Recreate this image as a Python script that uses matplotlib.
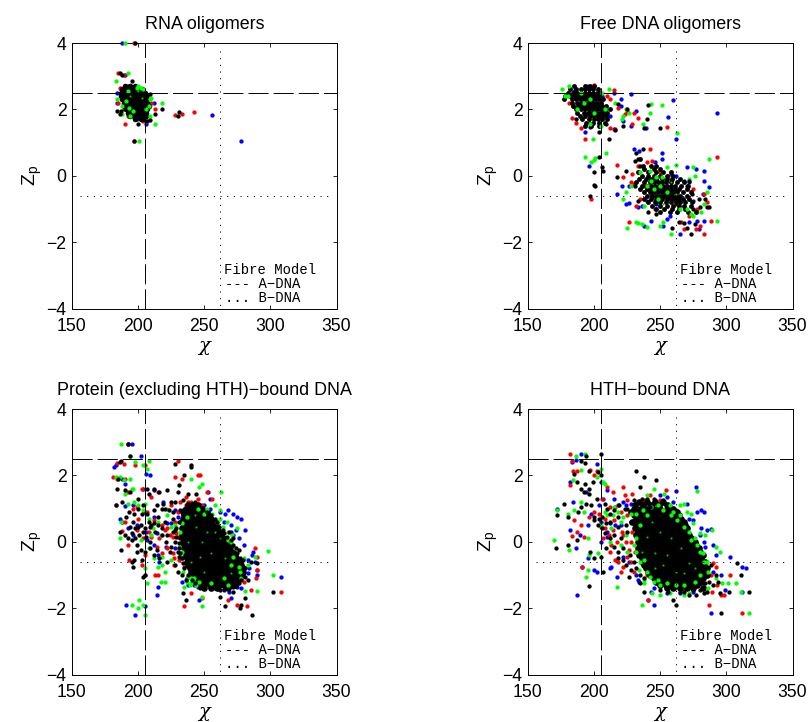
import matplotlib
matplotlib.use('Agg')
import matplotlib.pyplot as plt

plt.rcParams['font.family'] = ['Liberation Sans', 'DejaVu Sans']
plt.rcParams['mathtext.fontset'] = 'custom'
plt.rcParams['mathtext.rm'] = 'Liberation Sans'
plt.rcParams['lines.scale_dashes'] = False

# fibre model reference values
a_dna_chi = 205.5
a_dna_zp = 2.5
b_dna_chi = 262
b_dna_zp = -0.6

# --- RNA oligomers, points (chi, Zp)
rna_blue = [(188,4.0),(190,3.05),(184,2.2),(184,2.5),(187,2.6),(198,2.65),(199,1.7),(206,1.55),(212,2.2),(207,2.4),
            (256,1.83),(278,1.05),(192,2.7),(205,1.8)]
rna_red = [(197,4.0),(185,3.1),(189,3.05),(186,2.65),(185,2.2),(190,1.55),(189,2.0),(192,1.8),(197,1.05),(213,2.0),
           (228,1.82),(233,1.87),(242,1.92),(204,1.65),(190,2.6),(210,2.2),(205,1.7),(192,2.4)]
rna_green = [(190,4.0),(192,3.1),(183,2.85),(184,2.3),(188,1.85),(201,1.05),(213,1.55),(218,2.2),(209,1.8),(207,1.65),
             (210,2.35),(200,2.7),(204,2.6),(196,1.95),(194,1.8),(208,2.1),(206,2.0),(188,2.1),(192,2.55),(199,2.65),
             (202,2.65),(209,2.3),(191,2.25),(193,2.05)]
rna_black = [(198,4.0),(186,3.1),(188,3.05),(195,2.85),(197,1.05),(184,1.95),(186,1.85),(187,1.95),(200,1.55),(207,1.65),
             (209,1.68),(213,1.85),(218,2.0),(231,1.92),(230,1.8),(209,2.45)]
rna_core = {2.7: [190,194,198], 2.6: [188,191,194,197,200,203], 2.5: [187,190,193,196,199,202,205],
            2.4: [187,190,192,195,198,200,203,206], 2.3: [188,191,193,196,198,201,204,207],
            2.2: [189,191,194,196,199,202,204,207], 2.1: [189,192,195,197,200,203,205,208],
            2.0: [191,193,196,199,201,204,207], 1.9: [192,195,198,200,203,206],
            1.8: [194,197,200,203,206], 1.7: [198,202,204]}
rna_specks = [(194,2.4),(200,2.55),(203,2.35)]

# --- free DNA oligomers
free_blue = [(260,2.27),(293,1.88),(256,1.78),(262,1.1),(228,2.45),(220,2.3),(215,2.5),(232,1.95),(222,1.65),(228,1.5),
             (239,1.45),(193,1.32),(197,1.48),(215,1.4),(212,1.8),(220,2.1),(205,1.9),(185,2.55),(190,2.1),(195,2.7),
             (206,2.4),(230,0.8),(234,0.75),(251,0.68),(251,0.5),(246,0.4),(196,0.3),(221,-0.3),(217,-0.55),(224,-0.85),
             (226,-0.83),(233,-0.95),(236,-0.9),(243,-1.35),(238,-1.5),(252,-1.5),(255,-1.3),(257,-1.2),(265,-1.75),
             (272,-1.4),(278,-1.35),(283,-1.35),(279,-1.6),(270,0.27),(277,0.2),(283,0.15),(287,-0.35),(283,-0.15),
             (282,-0.55),(268,-0.15),(272,-0.2),(262,0.0),(258,0.05),(226,-0.3),(240,-0.75),(247,-0.85),(275,-0.75)]
free_red = [(200,2.72),(215,2.58),(210,2.4),(212,2.3),(218,2.05),(225,1.95),(230,1.9),(233,1.75),(229,1.55),(216,1.4),
            (212,1.45),(193,1.1),(190,1.45),(186,1.6),(183,1.75),(181,2.2),(184,2.1),(196,1.6),(223,1.85),(206,1.75),
            (255,1.48),(242,0.8),(233,0.3),(240,0.4),(244,0.45),(217,0.32),(229,0.05),(198,-0.7),(226,-1.4),(235,-0.7),
            (230,-0.25),(222,-0.05),(228,-0.2),(232,-0.9),(246,-1.0),(243,-0.55),(260,-0.7),(268,-1.6),(277,-1.6),
            (283,-1.75),(280,-1.5),(288,-1.35),(293,0.57),(283,-0.55),(285,-0.8),(275,-0.4),(262,-0.85),(250,0.1),
            (256,0.0),(238,-0.3),(272,-1.2),(278,-1.0),(266,-1.4)]
free_green = [(176,2.6),(178,2.4),(181,2.7),(180,2.4),(206,2.5),(211,2.6),(216,2.2),(224,2.0),(226,1.9),(221,1.7),
              (222,1.8),(237,1.55),(242,1.9),(243,2.15),(251,2.13),(263,1.3),(199,1.1),(197,1.55),(205,1.5),(187,2.0),
              (190,2.5),(192,2.2),(200,1.9),(208,2.0),(197,2.3),(193,0.57),(198,0.4),(201,0.52),(200,0.48),(209,0.7),
              (262,0.33),(251,-0.05),(255,0.25),(242,0.15),(235,0.1),(287,0.5),(275,0.25),(272,-0.1),(276,0.0),(225,-1.57),
              (232,-1.38),(236,-1.45),(240,-1.55),(233,-1.42),(250,-1.5),(252,-1.4),(258,-1.75),(275,-1.2),(273,-1.15),
              (281,-1.1),(283,-0.85),(285,-0.5),(293,-1.37),(222,-0.7),(224,-0.5),(228,-0.3),(238,-0.9),(245,-0.4),
              (248,-0.7),(255,-0.5),(243,-0.15),(265,-1.0),(270,-1.0),(240,-0.3),(250,-0.3),(247,-0.05)]
free_black = [(241,2.13),(238,1.45),(240,1.7),(250,1.45),(204,1.32),(211,1.1),(216,1.38),(209,1.55),(186,1.7),(222,1.5),
              (225,2.0),(218,2.15),(204,0.57),(206,0.27),(207,0.13),(200,0.12),(201,-0.3),(200,-0.28),(197,-0.6),(232,0.7),
              (233,0.5),(237,0.8),(231,0.45),(224,0.15),(217,-0.05),(235,0.3),(231,-0.3),(233,-0.75),(241,-1.1),(247,-1.15),
              (259,-1.58),(264,-1.4),(268,-1.42),(273,-1.75),(270,-1.58),(276,-1.45),(285,-0.95),(287,-0.93),(275,-1.0),
              (280,-0.95),(279,-0.7),(284,-0.7),(274,-0.55),(270,-0.3),(272,-0.15)]
free_core = {2.7: [185,193,197,200], 2.6: [182,186,190,193,196,199,203], 2.5: [180,184,187,190,193,196,199,202,204],
             2.4: [178,182,185,188,191,194,197,200,203], 2.3: [177,183,186,189,192,195,198,201,204,207],
             2.2: [183,187,190,193,196,199,202,205], 2.1: [184,188,191,194,197,200,203,206,209],
             2.0: [186,190,193,196,199,202,205,208,212], 1.9: [187,192,195,198,201,204,207,210],
             1.8: [189,193,197,200,203,206,209], 1.7: [191,196,200,203,206,210], 1.6: [194,199,204,208],
             1.5: [193,198,204],
             0.5: [235], 0.3: [237,243,247], 0.2: [238,245,250], 0.1: [233,241,247,252,258],
             0.0: [236,241,245,250,255,260], -0.1: [234,239,243,247,251,255,259,265],
             -0.2: [232,238,242,245,248,251,254,258,263,268], -0.3: [236,240,243,246,249,252,255,258,261,266,271],
             -0.4: [235,240,243,246,249,252,255,258,261,264,270], -0.5: [238,242,245,248,251,254,257,260,263,267,273],
             -0.6: [240,244,247,250,253,256,259,262,265,270], -0.7: [238,243,247,251,255,258,261,264,267,272],
             -0.8: [241,246,250,254,258,262,265,269,274], -0.9: [244,250,255,260,264,268,273],
             -1.0: [247,253,259,264,269], -1.1: [250,257,263,271,277]}
free_specks = [(258,-0.2),(252,-0.85),(262,-0.55)]

# --- protein (excluding HTH) bound DNA
prot_blue = [(192,2.95),(195,2.95),(202,2.58),(182,2.25),(183,2.3),(206,2.05),(209,2.0),(188,1.9),(190,1.75),(212,1.55),
             (219,1.2),(204,1.6),(190,1.08),(196,1.1),(188,0.6),(192,0.4),(186,0.7),(196,0.2),(206,0.3),(212,-0.1),
             (215,-0.4),(221,-0.15),(216,-0.6),(215,-1.35),(214,-1.6),(191,-1.92),(205,-1.95),(198,-2.2),(246,-1.75),
             (233,-1.2),(238,-1.3),(253,1.5),(254,1.3),(250,1.1),(272,0.85),(275,0.75),(278,0.7),(270,0.5),(274,0.35),
             (281,0.35),(272,0.2),(268,0.95),(280,-0.1),(287,-0.3),(290,-0.85),(290,-1.0),(288,-0.6),(284,-0.8),(308,-1.05),
             (265,-1.45),(269,-1.5),(270,-1.7),(263,-1.3),(245,-1.35),(250,-1.4),(278,-1.4),(254,1.0),(265,0.6),(262,0.9),
             (230,0.75),(235,1.0),(242,0.9),(225,0.55),(212,0.75),(205,0.9),(277,-1.1),(283,-0.55),(283,-0.95),
             (199,0.5),(207,0.05),(214,0.25),(222,0.55),(228,-0.2),(233,-0.5),(228,0.95),(237,-1.1),(242,-1.3),(258,-1.4),
             (286,-0.4),(275,-1.35),(266,0.85),(270,0.3),(276,0.1)]
prot_red = [(184,2.38),(189,2.35),(192,2.95),(198,2.3),(205,2.3),(181,1.95),(184,1.9),(183,1.1),(190,1.9),(192,1.5),
            (203,1.6),(210,1.35),(196,1.0),(190,0.6),(188,0.32),(192,-0.1),(193,-0.55),(203,-0.7),(205,-0.4),(205,-1.0),
            (213,-1.0),(215,-1.0),(230,2.42),(228,1.95),(233,1.9),(245,2.0),(247,2.02),(236,1.35),(245,1.3),(252,1.5),
            (256,1.3),(232,1.2),(240,1.2),(225,1.1),(218,0.5),(222,0.4),(224,0.2),(226,-0.35),(227,-0.5),(218,-0.35),
            (235,-1.95),(268,-1.75),(275,-1.9),(282,-1.95),(290,-0.45),(288,-0.2),(290,-0.85),(289,-1.1),(308,-1.5),
            (285,-1.45),(248,-1.7),(240,-1.55),(235,-0.75),(212,0.65),(208,0.3),(200,0.7),(215,1.5),(255,-1.35),(275,-1.1),
            (270,-1.2),(278,-0.75),(236,1.1),(242,1.1),(230,0.9),(234,0.8),(228,0.6),
            (199,0.35),(204,0.1),(210,0.15),(216,0.1),(220,0.35),(226,0.15),(230,0.15),(227,-0.7),(231,-0.55),(235,0.6),
            (238,1.2),(243,1.15),(248,1.1),(233,0.55),(229,0.25),(222,-0.2),(214,-0.15),(207,0.9),(199,1.05),(272,-1.3),
            (280,-1.2),(260,-1.4),(250,-1.35)]
prot_green = [(187,2.95),(194,2.58),(208,2.42),(204,2.3),(198,2.4),(207,2.2),(183,1.95),(186,1.95),(189,1.85),(194,1.9),
              (196,1.6),(190,1.45),(187,0.6),(186,0.1),(200,1.1),(205,1.15),(204,0.95),(197,1.2),(240,1.9),(246,1.65),
              (248,1.75),(263,1.5),(258,1.1),(252,1.0),(262,0.95),(275,0.4),(267,0.6),(271,0.2),(270,0.0),(273,-0.2),
              (298,-0.28),(288,-0.45),(283,-0.7),(280,-0.5),(302,-1.0),(290,-1.48),(281,-1.48),(277,-0.9),(240,-1.1),
              (242,-1.2),(238,-1.05),(244,-1.3),(240,-1.25),(235,-1.35),(248,-1.95),(248,-1.65),(201,-1.75),(204,-1.9),
              (195,-1.9),(200,-2.0),(205,-2.2),(217,-1.2),(220,-1.2),(215,-0.75),(220,-0.9),(218,-0.7),(212,-0.5),
              (207,-1.25),(205,-0.8),(211,0.4),(222,0.8),(215,0.6),(228,0.5),(232,-0.4),(265,-1.1),
              (262,0.7),(270,-0.7),(268,0.3),(245,1.0),(222,1.0),(208,0.7),
              (192,1.15),(195,1.6),(232,0.3),
              (202,0.05),(210,0.2),(217,0.2),(225,0.45),(231,-0.15),(233,0.55),(237,0.75),(250,0.85),(256,0.85),
              (260,0.6),(264,0.45),(268,0.05),(272,-0.45),(276,-0.75),(278,-1.1),(268,-1.3),(255,-1.25),(246,-1.2),(237,-1.2),
              (239,-1.3),(242,-1.1),(234,-0.9),(233,-0.3),(225,-0.55),(218,-0.45),(208,-0.2)]
prot_black = [(192,2.95),(194,2.58),(186,2.4),(187,2.42),(228,2.35),(240,2.25),(240,2.3),(185,1.9),(184,1.6),(183,1.1),
              (190,1.55),(188,1.2),(194,1.5),(207,1.6),(212,1.6),(216,1.5),(222,1.55),(230,1.5),(235,2.0),(231,1.7),
              (238,1.45),(244,1.45),(243,1.2),(187,-0.25),(190,0.2),(192,0.1),(195,0.05),(199,-0.3),(202,-0.25),(195,-0.6),
              (197,-0.55),(196,-0.75),(203,-0.55),(205,-1.0),(204,-1.05),(186,0.3),(194,0.45),(198,0.4),(202,0.5),(191,0.75),
              (197,0.85),(205,0.4),(208,0.6),(204,1.1),(208,1.45),(214,1.1),(220,1.0),(213,0.3),(218,0.4),(209,0.0),
              (209,-0.2),(214,-0.25),(224,-0.3),(225,1.2),(234,-1.55),(236,-1.75),(266,-1.95),(262,-1.65),(278,-1.9),
              (277,-2.0),(286,-2.2),(281,-1.7),(302,-1.5),(272,-1.5),(262,-1.45),(283,-1.15),(285,-0.6),(290,-0.65),
              (196,0.6),(200,1.0),(215,0.75),(222,0.2),(228,0.0),(210,0.5),(203,0.85),(226,0.9),(220,0.6),
              (200,0.45),(204,0.3),(206,0.15),(209,0.45),(212,0.55),(215,0.5),(218,0.2),(221,0.0),(225,-0.15),(228,0.35),
              (231,0.6),(226,0.7),(223,0.95),(219,1.15),(212,0.95),(207,0.85),(201,0.2),(198,0.1),(205,-0.3),(212,-0.4),
              (216,-0.5),(222,-0.6),(228,-0.7),(230,-0.9),(233,-1.0),(236,-1.15),(238,1.0),(240,1.1),(234,1.25),(228,1.2),
              (232,0.95),(226,0.3),(218,1.0),(200,1.3),(193,0.9),(199,-0.1),(195,0.25),
              (252,0.9),(255,0.8),(258,0.7),(260,0.6),(261,0.45),(264,0.35),(265,0.25),(267,0.15),(270,0.05),(272,-0.1),
              (274,-0.2),(275,-0.35),(277,-0.5),(232,0.1),(231,-0.05),(231,-0.2),(232,-0.35),(233,-0.5),(234,-0.65),(235,-0.8),
              (238,-1.0),(241,-1.15),(243,-1.25),(247,-1.38),(278,-1.15),(279,-1.0),(276,-1.25),(272,-1.35),(265,-1.42),
              (229,0.4),(229,0.15),(230,-0.3),(231,-0.45),(269,0.3),(272,0.1),(276,-0.25),(279,-0.55),(281,-0.8),(281,-1.05)]
prot_core = {1.1: [238,241,245], 1.0: [236,239,242,245,248], 0.9: [234,237,240,243,246,249,252],
             0.8: [235,238,241,244,247,250,253], 0.7: [234,237,240,243,246,249,252,255],
             0.6: [233,236,239,242,245,248,251,254,257], 0.5: [235,238,241,244,247,250,253,256,259],
             0.4: [233,236,239,242,245,248,251,254,257,260], 0.3: [235,238,241,244,247,250,253,256,259,262],
             0.2: [233,236,239,242,245,248,251,254,257,260,263], 0.1: [234,237,240,243,246,249,252,255,258,261,264],
             0.0: [234,237,240,243,246,249,252,255,258,261,264,267], -0.1: [235,238,241,244,247,250,253,256,259,262,265,268],
             -0.2: [235,238,241,244,247,250,253,256,259,262,265,268,271], -0.3: [236,239,242,245,248,251,254,257,260,263,266,269,272],
             -0.4: [236,239,242,245,248,251,254,257,260,263,266,269,273], -0.5: [237,240,243,246,249,252,255,258,261,264,267,270,274],
             -0.6: [237,240,243,246,249,252,255,258,261,264,267,270,273,277], -0.7: [238,241,244,247,250,253,256,259,262,265,268,271,274,278],
             -0.8: [239,242,245,248,251,254,257,260,263,266,269,272,275,279], -0.9: [240,243,246,249,252,255,258,261,264,267,270,273,276,279],
             -1.0: [241,244,247,250,253,256,259,262,265,268,271,274,278], -1.1: [244,247,250,253,256,259,262,265,268,271,274,277],
             -1.2: [245,248,251,254,257,260,263,266,269,272,275], -1.3: [247,250,254,258,262,266,270,273], -1.4: [250,255,260,268]}
prot_specks = [(248,0.0),(255,-0.35),(240,-0.6),(262,0.1),(250,-0.9),(244,0.45),(252,0.3),(258,0.3),(266,-0.5),(238,0.0),
               (247,-0.45),(270,-0.95),(243,0.8)]

# --- HTH bound DNA
hth_blue = [(190,2.65),(186,2.45),(183,2.4),(202,2.35),(182,1.8),(184,1.2),(172,1.0),(182,0.35),(189,0.2),(186,-0.2),
            (191,-0.75),(200,-0.85),(202,-0.9),(187,-1.6),(195,-0.5),(195,0.5),(198,0.85),(205,0.6),(204,1.1),(210,1.55),
            (215,1.3),(222,1.2),(228,1.15),(233,1.2),(255,1.35),(262,1.52),(277,1.65),(281,0.95),(283,0.9),(278,0.9),
            (275,0.65),(270,1.15),(281,0.4),(285,0.35),(283,0.0),(288,0.38),(290,-0.1),(284,-0.15),(303,-0.45),(312,-0.75),
            (315,-0.8),(296,-1.0),(299,-1.45),(312,-1.5),(288,-2.15),(245,-1.9),(241,-1.75),(243,-1.5),(234,-1.2),(232,-1.0),
            (217,-1.05),(212,-0.8),(213,-0.75),(222,-0.45),(255,-1.55),(265,-1.55),(275,-1.5),(283,-1.0),(292,-0.4),(260,1.2),
            (250,1.4),(205,0.0),(210,0.3),(220,0.5),(205,1.8),(207,1.3),(194,1.5),
            (210,0.15),(216,0.5),(224,1.1),(238,1.2),(246,1.25),(258,1.05),(272,0.7),(280,0.2),(226,-0.6),(233,-1.15),
            (245,-1.4),(272,-1.35),(290,-0.9),(218,1.1),(212,0.55)]
hth_red = [(182,2.65),(183,2.42),(184,2.12),(187,2.13),(197,2.15),(202,2.13),(200,2.0),(182,1.7),(185,0.67),(187,0.28),
           (183,0.17),(190,0.5),(192,0.15),(191,-0.75),(210,1.65),(214,1.5),(212,1.05),(206,1.3),(222,1.65),(223,1.4),
           (229,1.45),(254,1.57),(242,1.4),(245,1.2),(196,0.75),(200,0.9),(205,0.45),(207,0.1),(213,-0.1),(212,-0.3),
           (218,-0.6),(220,-0.9),(225,-0.45),(222,0.2),(228,0.0),(230,-0.9),(241,-1.75),(262,-1.35),(268,-1.45),(287,-1.9),
           (296,-1.6),(298,-1.6),(293,-1.3),(303,-1.0),(312,-2.15),(289,-1.5),(285,-1.0),(290,-0.65),(220,0.9),(215,0.65),
           (235,1.0),(240,-1.0),(208,0.7),(225,0.8),
           (204,0.85),(208,0.4),(211,0.2),(214,0.35),(217,0.0),(221,0.3),(224,0.0),(226,-0.25),(229,0.3),(231,-0.3),
           (228,-0.6),(222,-0.75),(216,-0.55),(216,1.05),(225,1.25),(231,1.15),(238,1.25),(250,1.25),(256,1.15),(262,0.95),
           (288,-1.0),(292,-0.75),(283,-1.35),(276,-1.3),(250,-1.35)]
hth_green = [(186,2.58),(193,2.65),(190,2.15),(184,1.85),(170,0.05),(181,-0.25),(172,0.95),(180,0.85),(185,0.95),(192,0.9),
             (190,1.2),(205,2.2),(202,1.95),(208,1.75),(207,1.8),(195,0.1),(196,-0.4),(195,-0.85),(194,-1.05),(203,-0.35),
             (217,-1.35),(236,-1.9),(244,-1.55),(250,-1.6),(257,-1.55),(268,-1.6),(272,-1.55),(286,-1.4),(292,-1.1),(297,-1.25),
             (301,-1.25),(307,-1.25),(311,-1.5),(317,-2.15),(295,-0.3),(292,-0.15),(289,0.35),(284,0.2),(280,0.25),(275,0.55),
             (270,0.9),(265,1.1),(268,1.15),(273,0.85),(278,1.53),(253,1.45),(257,1.1),(245,1.6),(240,1.4),(215,1.05),
             (218,0.9),(210,0.8),(213,0.4),(222,0.75),(205,0.5),(212,0.0),(220,-0.1),(225,-0.3),(235,-0.6),(240,-0.9),
             (245,-1.2),(238,-1.15),(250,-1.3),(262,-1.3),(260,0.9),(265,0.8),(272,0.3),(276,0.1),(280,-0.3),(283,-0.6),
             (286,-0.9),(235,0.5),(232,0.1),(240,0.8),
             (208,0.9),(214,0.8),(220,0.6),(224,0.2),(228,0.85),(232,0.85),(237,0.95),(243,1.05),(248,1.1),(252,0.95),
             (258,0.8),(263,0.65),(268,0.45),(273,0.05),(278,-0.1),(282,-0.35),(285,-0.6),(232,-0.3),(230,-0.1),(234,-0.85),
             (238,-0.55),(242,-1.05),(248,-1.15),(255,-1.25),(268,-1.3),(276,-1.2),(280,-1.0),(238,-1.25)]
hth_black = [(205,2.65),(194,2.58),(190,2.42),(193,2.38),(196,2.13),(203,2.1),(205,2.0),(185,2.05),(187,1.8),(190,1.6),
             (192,1.5),(193,1.75),(196,1.45),(177,1.15),(172,0.8),(180,0.75),(190,1.05),(188,0.9),(194,1.15),(198,1.1),
             (200,0.65),(204,0.7),(206,0.75),(171,-0.2),(180,-0.1),(187,0.05),(197,-0.3),(200,-0.5),(205,-0.45),(207,-0.9),
             (196,-1.33),(232,2.12),(238,1.95),(247,1.85),(235,1.65),(240,1.3),(242,1.05),(225,1.0),(212,0.6),(215,0.2),
             (218,-0.5),(222,-0.55),(228,-0.85),(226,-1.05),(235,-1.25),(238,-1.5),(250,-1.45),(260,-1.75),(262,-1.9),(265,-1.5),
             (277,-1.6),(283,-1.55),(285,-1.5),(295,-1.55),(302,-1.5),(317,-1.5),(311,-1.0),(308,-0.65),(296,-2.15),(292,-1.0),
             (288,-0.7),(272,-1.6),(210,1.0),(218,0.75),(224,0.5),(208,0.25),
             (200,0.75),(203,0.5),(206,0.4),(209,0.55),(212,0.85),(215,0.95),(218,0.45),(220,0.1),(222,-0.2),(225,0.3),
             (227,-0.4),(215,-0.15),(212,0.1),(209,-0.2),(218,-0.3),(224,-0.7),(230,-0.6),(232,-0.8),(235,-1.0),(238,-1.1),
             (228,0.6),(230,1.25),(236,1.3),(245,1.3),(252,1.25),(223,1.0),(219,1.1),(208,1.15),(202,1.3),(196,1.6),
             (199,1.8),(294,-1.2),(290,-1.3),(287,-1.2),(284,-1.25),(280,-1.45),(275,-1.45),(256,-1.5),(268,-1.5)]
hth_core = {1.2: [234,240,246,252], 1.1: [231,237,243,249,255], 1.0: [230,235,240,245,250,255,260],
            0.9: [228,233,238,243,247,251,255,259,263], 0.8: [230,235,240,244,248,252,256,260,264],
            0.7: [232,237,241,244,247,250,253,256,259,262,266], 0.6: [229,234,238,241,244,247,250,253,256,259,262,265,268],
            0.5: [232,236,239,242,245,248,251,254,257,260,263,266,269], 0.4: [231,234,237,240,243,246,249,252,255,258,261,264,267,270],
            0.3: [233,236,239,242,245,248,251,254,257,260,263,266,269], 0.2: [232,235,238,241,244,247,250,253,256,259,262,265,268,272],
            0.1: [234,237,240,243,246,249,252,255,258,261,264,267,270,273], 0.0: [233,236,239,242,245,248,251,254,257,260,263,266,269,272,276],
            -0.1: [235,238,241,244,247,250,253,256,259,262,265,268,271,274,277], -0.2: [233,236,239,242,245,248,251,254,257,260,263,266,269,272,275,279],
            -0.3: [235,238,241,244,247,250,253,256,259,262,265,268,271,274,277,280], -0.4: [234,237,240,243,246,249,252,255,258,261,264,267,270,273,276,279,282],
            -0.5: [236,239,242,245,248,251,254,257,260,263,266,269,272,275,278,281], -0.6: [236,239,242,245,248,251,254,257,260,263,266,269,272,275,278,281,284],
            -0.7: [238,241,244,247,250,253,256,259,262,265,268,271,274,277,280,283], -0.8: [239,242,245,248,251,254,257,260,263,266,269,272,275,278,281,285],
            -0.9: [241,244,247,250,253,256,259,262,265,268,271,274,277,280,284], -1.0: [242,245,248,251,254,257,260,263,266,269,272,275,278,281,285],
            -1.1: [245,248,251,254,257,260,263,266,269,272,275,278,282], -1.2: [247,250,253,256,259,262,265,268,271,274,277,281],
            -1.3: [250,254,258,262,266,270,274,278], -1.4: [255,260,265,270,275,282]}
hth_specks = [(240,0.15),(246,-0.35),(252,-0.7),(258,0.1),(266,-0.2),(272,-0.65),(244,0.6),(255,-0.4),(262,-0.9),(250,0.3),
              (246,-0.8),(236,-0.3),(268,-0.95),(276,-0.8)]

panels = [
    ('RNA oligomers', (72, 43), 4.0, rna_blue, rna_red, rna_green, rna_black, rna_core, rna_specks),
    ('Free DNA oligomers', (528, 43), 3.5, free_blue, free_red, free_green, free_black, free_core, free_specks),
    ('Protein (excluding HTH)\u2212bound DNA', (72, 409), 4.8, prot_blue, prot_red, prot_green, prot_black, prot_core, prot_specks),
    ('HTH\u2212bound DNA', (528, 409), 4.8, hth_blue, hth_red, hth_green, hth_black, hth_core, hth_specks),
]

W, H = 810, 722
fig = plt.figure(figsize=(W / 100, H / 100), dpi=100)
long_dash = (0, (14.5, 3.6))
sparse_dot = (0, (0.8, 4.0))


def draw_points(ax, pts, colour, ms=3.1):
    ax.plot([p[0] for p in pts], [p[1] for p in pts], ls='none', marker='o', ms=ms,
            mfc=colour, mec='none', clip_on=False, zorder=3)


for title, (left, top), core_ms, blue, red, green, black, core, specks in panels:
    ax = fig.add_axes([left / W, 1 - (top + 265.5) / H, 264.5 / W, 265.5 / H])
    core_pts = [(chi, zp) for zp, row in core.items() for chi in row]

    # blob first, then green over its rim, scattered black stays on top
    draw_points(ax, blue, '#0000ff')
    draw_points(ax, red, '#ff0000')
    draw_points(ax, core_pts, 'black', core_ms)
    draw_points(ax, green, '#00ff00')
    draw_points(ax, black, 'black')
    draw_points(ax, specks, '#00c800', 1.5)

    ax.axvline(a_dna_chi, color='black', lw=0.7, ls=long_dash, zorder=4)
    ax.axhline(a_dna_zp, color='black', lw=0.7, ls=long_dash, zorder=4)
    ax.plot([b_dna_chi, b_dna_chi], [3.75, -4], color='black', lw=0.7, ls=sparse_dot, zorder=4)
    ax.plot([156, 346], [b_dna_zp, b_dna_zp], color='black', lw=0.7, ls=sparse_dot, zorder=4)

    ax.set_xlim(150, 350)
    ax.set_ylim(-4, 4)
    ax.set_xticks([150, 200, 250, 300, 350])
    ax.set_yticks([-4, -2, 0, 2, 4])
    ax.set_yticklabels(['\u22124', '\u22122', '0', '2', '4'])
    ax.tick_params(direction='in', top=True, right=True, length=3, width=0.6, labelsize=12.7)
    ax.tick_params(axis='x', pad=6.5)
    ax.tick_params(axis='y', pad=4)
    for s in ax.spines.values():
        s.set_linewidth(0.7)

    ax.set_title(title, fontsize=12.9, pad=10)
    ax.set_xlabel('\u03c7', fontsize=14, family='DejaVu Serif', style='italic', labelpad=2)
    ax.set_ylabel('Z$_{\\mathrm{p}}$', fontsize=14, labelpad=1.5)

    ax.text(265, -2.85, 'Fibre Model', family='Liberation Mono', fontsize=10, va='center', zorder=5)
    ax.text(265.5, -3.25, '--- A\u2212DNA', family='Liberation Mono', fontsize=10, va='center', zorder=5)
    ax.text(265.5, -3.67, '... B\u2212DNA', family='Liberation Mono', fontsize=10, va='center', zorder=5)

fig.savefig('out.png', dpi=100)
